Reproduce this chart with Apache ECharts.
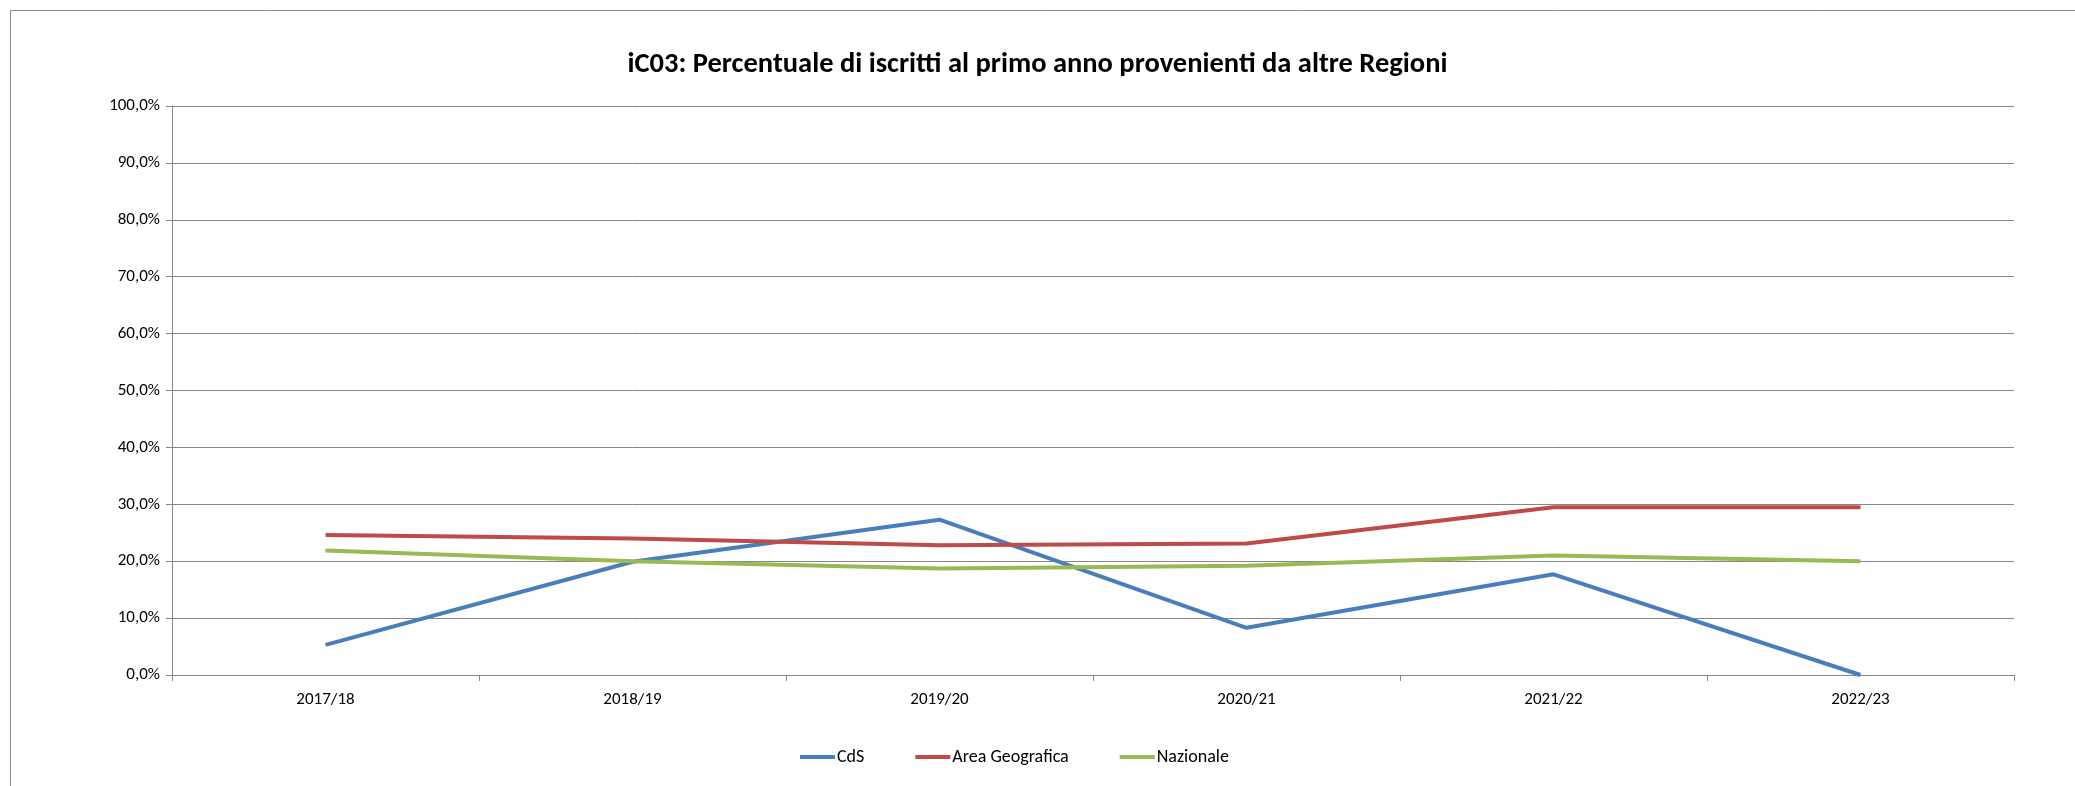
<!DOCTYPE html>
<html>
<head>
<meta charset="utf-8">
<style>
  html, body { margin: 0; padding: 0; background: #fff; }
  #chart { width: 2075px; height: 786px; }
</style>
<script src="https://cdn.jsdelivr.net/npm/echarts@6/dist/echarts.min.js"></script>
</head>
<body>
<div id="chart"></div>
<script>
  const categories = ['2017/18', '2018/19', '2019/20', '2020/21', '2021/22', '2022/23']
  const cdsData = [5.3, 19.9, 27.3, 8.3, 17.7, 0.0]
  const areaData = [24.6, 24.0, 22.8, 23.1, 29.5, 29.5]
  const nazData = [21.9, 20.0, 18.7, 19.2, 21.0, 20.0]

  const font = 'Carlito, Lato, "Liberation Sans", sans-serif'
  const chart = echarts.init(document.getElementById('chart'))
  chart.setOption({
    animation: false,
    textStyle: { fontFamily: font },
    color: ['#4A7EBB', '#BE4B48', '#98B954'],
    title: {
      text: 'iC03: Percentuale di iscritti al primo anno provenienti da altre Regioni',
      left: 'center',
      top: 45,
      textStyle: { fontSize: 28.5, fontWeight: 'bold', color: '#000', fontFamily: font }
    },
    graphic: [
      {
        type: 'rect',
        shape: { x: 10.5, y: 10.5, width: 2200, height: 900 },
        style: { fill: 'none', stroke: '#888', lineWidth: 1 },
        silent: true
      }
    ],
    legend: {
      top: 743,
      left: 795,
      itemWidth: 35,
      itemHeight: 4,
      itemGap: 51,
      icon: 'rect',
      textStyle: { fontSize: 18, color: '#000', padding: [0, 0, 0, -3] },
      data: ['CdS', 'Area Geografica', 'Nazionale']
    },
    grid: { left: 172, right: 61, top: 106, bottom: 111 },
    xAxis: {
      type: 'category',
      data: categories,
      boundaryGap: true,
      axisLine: { lineStyle: { color: '#868686', width: 1 } },
      axisTick: { show: true, length: 6, lineStyle: { color: '#868686' } },
      axisLabel: { color: '#000', fontSize: 17, margin: 16 }
    },
    yAxis: {
      type: 'value',
      min: 0,
      max: 100,
      interval: 10,
      axisLine: { show: true, lineStyle: { color: '#868686', width: 1 } },
      axisTick: { show: true, length: 6, lineStyle: { color: '#868686' } },
      splitLine: { lineStyle: { color: '#868686', width: 1 } },
      axisLabel: {
        color: '#000',
        fontSize: 17,
        margin: 12,
        formatter: function (v) {
          return v.toFixed(1).replace('.', ',') + '%'
        }
      }
    },
    series: [
      { name: 'CdS', type: 'line', data: cdsData, symbol: 'none', lineStyle: { width: 4 } },
      { name: 'Area Geografica', type: 'line', data: areaData, symbol: 'none', lineStyle: { width: 4 } },
      { name: 'Nazionale', type: 'line', data: nazData, symbol: 'none', lineStyle: { width: 4 } }
    ]
  })
</script>
</body>
</html>
